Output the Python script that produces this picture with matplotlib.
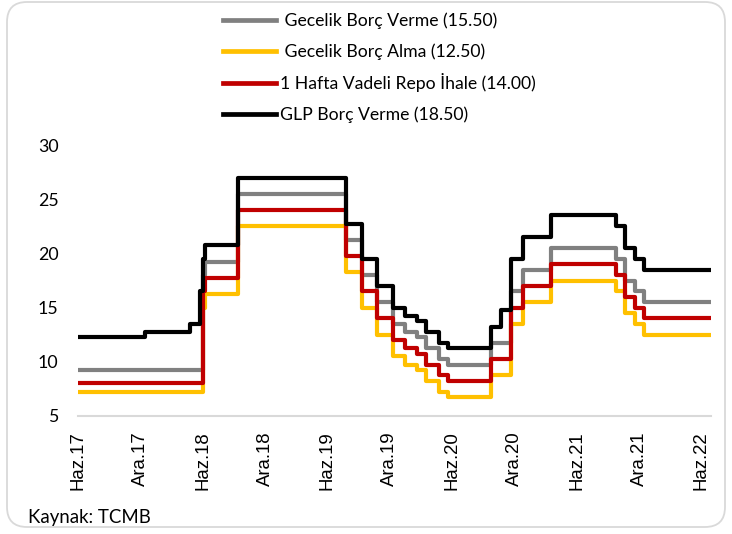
import matplotlib
matplotlib.use("Agg")
import matplotlib.pyplot as plt
import matplotlib.transforms as mtransforms
from matplotlib.patches import FancyBboxPatch
import pandas as pd

# faiz değişim tarihleri ve seviyeleri (%)
tarihler = ['2017-06-06', '2017-12-14', '2018-04-25', '2018-05-23', '2018-06-01',
            '2018-06-07', '2018-09-13', '2019-07-25', '2019-09-12', '2019-10-24',
            '2019-12-12', '2020-01-16', '2020-02-19', '2020-03-17', '2020-04-22',
            '2020-05-21', '2020-09-24', '2020-10-22', '2020-11-19', '2020-12-24',
            '2021-03-18', '2021-09-23', '2021-10-21', '2021-11-18', '2021-12-16',
            '2022-06-29']

gecelik_verme = [9.25, 9.25, 9.25, 9.25, 18.00, 19.25, 25.50, 21.25, 18.00, 15.50,
                 13.50, 12.75, 12.25, 11.25, 10.25, 9.75, 11.75, 11.75, 16.50, 18.50,
                 20.50, 19.50, 17.50, 16.50, 15.50, 15.50]
gecelik_alma = [7.25, 7.25, 7.25, 7.25, 15.00, 16.25, 22.50, 18.25, 15.00, 12.50,
                10.50, 9.75, 9.25, 8.25, 7.25, 6.75, 8.75, 8.75, 13.50, 15.50,
                17.50, 16.50, 14.50, 13.50, 12.50, 12.50]
repo = [8.00, 8.00, 8.00, 8.00, 16.50, 17.75, 24.00, 19.75, 16.50, 14.00,
        12.00, 11.25, 10.75, 9.75, 8.75, 8.25, 10.25, 10.25, 15.00, 17.00,
        19.00, 18.00, 16.00, 15.00, 14.00, 14.00]
glp = [12.25, 12.75, 13.50, 16.50, 19.50, 20.75, 27.00, 22.75, 19.50, 17.00,
       15.00, 14.25, 13.75, 12.75, 11.75, 11.25, 13.25, 14.75, 19.50, 21.50,
       23.50, 22.50, 20.50, 19.50, 18.50, 18.50]

seriler = [' Gecelik Borç Verme (15.50)', ' Gecelik Borç Alma (12.50)',
           '1 Hafta Vadeli Repo İhale (14.00)', 'GLP Borç Verme (18.50)']
renkler = ['#808080', '#FFC000', '#C00000', '#000000']

tick_tarihleri = ['2017-06-01', '2017-12-01', '2018-06-01', '2018-12-01', '2019-06-01',
                  '2019-12-01', '2020-06-01', '2020-12-01', '2021-06-01', '2021-12-01',
                  '2022-06-01']
tick_etiketleri = ['Haz.17', 'Ara.17', 'Haz.18', 'Ara.18', 'Haz.19', 'Ara.19',
                   'Haz.20', 'Ara.20', 'Haz.21', 'Ara.21', 'Haz.22']

x = pd.to_datetime(tarihler)
veriler = [gecelik_verme, gecelik_alma, repo, glp]

fig = plt.figure(figsize=(7.32, 5.34), dpi=100)
ax = fig.add_axes([78 / 732, 118 / 534, 633 / 732, 271 / 534])

cizgiler = []
for y, renk, ad in zip(veriler, renkler, seriler):
    l, = ax.step(x, y, where='post', color=renk, linewidth=3.0, label=ad)
    cizgiler.append(l)

ax.set_xlim(x[0], x[-1])
ax.set_ylim(5, 30)
ax.set_yticks([5, 10, 15, 20, 25, 30])
ax.set_xticks(pd.to_datetime(tick_tarihleri))
ax.set_xticklabels(tick_etiketleri, rotation=90, fontsize=13.4,
                   family='Liberation Sans')
for lab in ax.get_yticklabels():
    lab.set_family('Lato')
    lab.set_fontsize(12.8)

kaydir = mtransforms.ScaledTranslation(0.037, 0, fig.dpi_scale_trans)
for lab in ax.get_xticklabels():
    lab.set_transform(lab.get_transform() + kaydir)

ax.tick_params(axis='y', length=0, pad=14, colors='#000000')
ax.tick_params(axis='x', length=0, pad=11)
for s in ['top', 'right', 'left']:
    ax.spines[s].set_visible(False)
ax.spines['bottom'].set_color('#d9d9d9')
ax.spines['bottom'].set_linewidth(1.5)
ax.spines['bottom'].set_zorder(0)

leg = fig.legend(handles=cizgiler, loc='upper left', bbox_to_anchor=(214 / 732, 1 - 4 / 534),
                 frameon=False, prop={'family': 'Lato', 'size': 12.7},
                 handlelength=3.0, handletextpad=0.25, labelspacing=0.78, borderpad=0)
for h in leg.get_lines():
    h.set_linewidth(3.4)

fig.text(28 / 732, 1 - 517 / 534, 'Kaynak: TCMB', fontsize=13.4, family='Lato',
         va='center', ha='left')

cerceve = FancyBboxPatch((7, 7), 718, 525, boxstyle='round,pad=0,rounding_size=20',
                         transform=None, facecolor='none', edgecolor='#d9d9d9',
                         linewidth=1.3)
fig.patches.append(cerceve)

fig.savefig('out.png', dpi=100)
